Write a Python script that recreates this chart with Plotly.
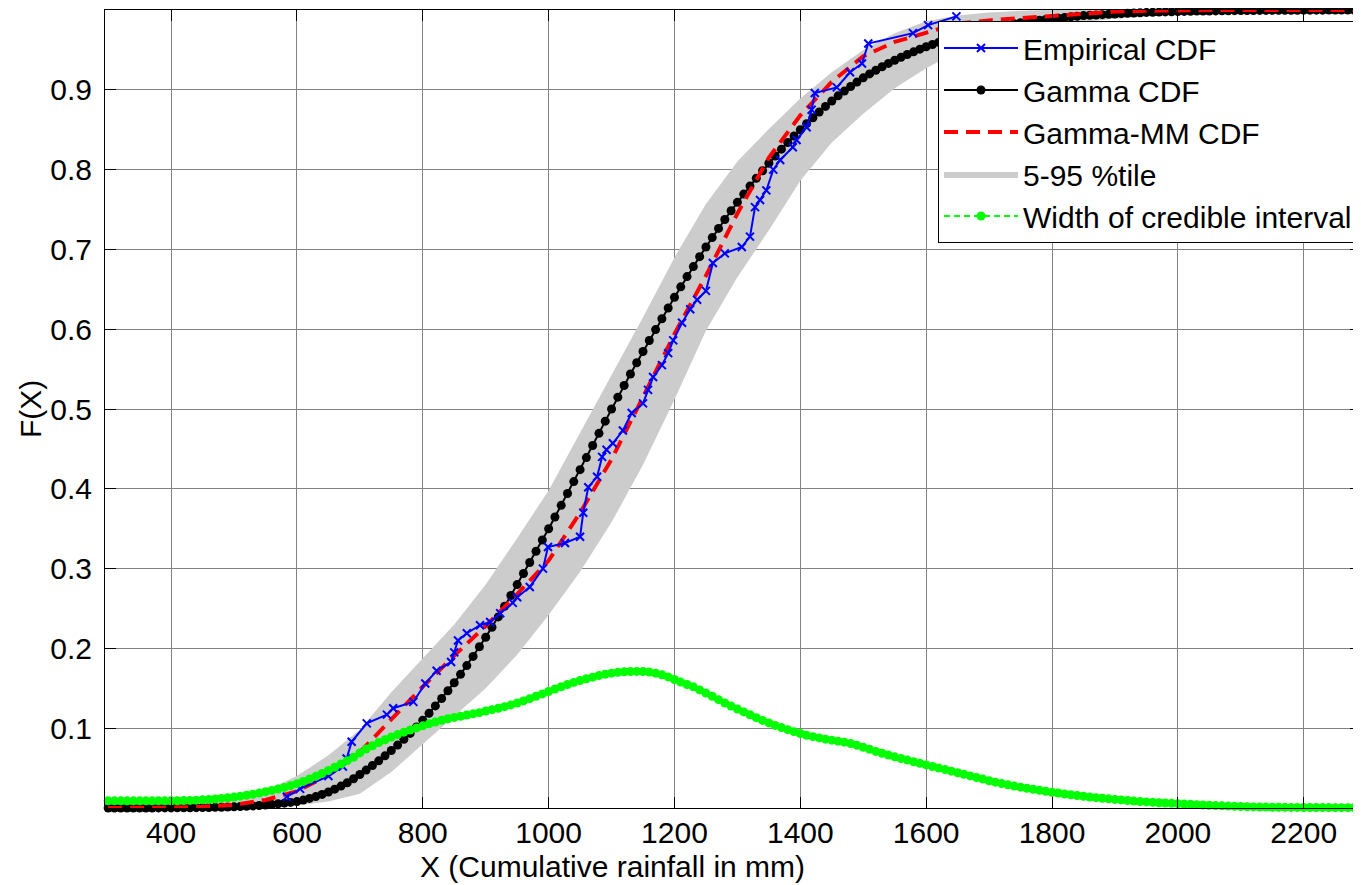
import plotly.graph_objects as go

# ---------------- data ----------------
x_grid = list(range(300, 2300, 10))  # evaluation grid of the fitted curves

gamma_cdf = [
    0, 0, 0, 0, 0, 0, 0, 0, 0.0001, 0.0001,
    0.0001, 0.0002, 0.0002, 0.0003, 0.0004, 0.0005, 0.0006, 0.0008, 0.0010, 0.0012,
    0.0015, 0.0018, 0.0022, 0.0026, 0.0031, 0.0037, 0.0044, 0.0052, 0.0061, 0.0070,
    0.0080, 0.0099, 0.0120, 0.0143, 0.0170, 0.0200, 0.0236, 0.0275, 0.0317, 0.0366,
    0.0420, 0.0475, 0.0532, 0.0591, 0.0654, 0.0720, 0.0788, 0.0860, 0.0935, 0.1015,
    0.1100, 0.1188, 0.1279, 0.1372, 0.1469, 0.1570, 0.1675, 0.1785, 0.1900, 0.2020,
    0.2140, 0.2265, 0.2395, 0.2528, 0.2663, 0.2800, 0.2938, 0.3077, 0.3217, 0.3358,
    0.3500, 0.3646, 0.3793, 0.3941, 0.4090, 0.4240, 0.4391, 0.4543, 0.4695, 0.4848,
    0.5000, 0.5148, 0.5294, 0.5438, 0.5580, 0.5720, 0.5858, 0.5995, 0.6131, 0.6266,
    0.6400, 0.6531, 0.6659, 0.6785, 0.6909, 0.7030, 0.7148, 0.7263, 0.7375, 0.7484,
    0.7590, 0.7693, 0.7793, 0.7891, 0.7986, 0.8080, 0.8170, 0.8256, 0.8339, 0.8421,
    0.8500, 0.8576, 0.8650, 0.8722, 0.8792, 0.8860, 0.8924, 0.8984, 0.9042, 0.9097,
    0.9150, 0.9199, 0.9245, 0.9289, 0.9331, 0.9370, 0.9407, 0.9442, 0.9476, 0.9509,
    0.9540, 0.9568, 0.9595, 0.9621, 0.9646, 0.9670, 0.9691, 0.9712, 0.9732, 0.9751,
    0.9770, 0.9785, 0.9799, 0.9813, 0.9827, 0.9840, 0.9851, 0.9861, 0.9871, 0.9881,
    0.9890, 0.9898, 0.9906, 0.9914, 0.9922, 0.9930, 0.9934, 0.9938, 0.9942, 0.9946,
    0.9950, 0.9954, 0.9958, 0.9962, 0.9966, 0.9970, 0.9972, 0.9974, 0.9976, 0.9978,
    0.9980, 0.9982, 0.9984, 0.9986, 0.9987, 0.9988, 0.9989, 0.9990, 0.9991, 0.9992,
    0.9993, 0.9994, 0.9994, 0.9995, 0.9995, 0.9996, 0.9996, 0.9997, 0.9997, 0.9997,
    0.9998, 0.9998, 0.9998, 0.9998, 0.9999, 0.9999, 0.9999, 0.9999, 0.9999, 0.9999,
]

ci_width = [
    0.0090, 0.0090, 0.0090, 0.0090, 0.0090, 0.0090, 0.0090, 0.0090, 0.0090, 0.0090,
    0.0090, 0.0091, 0.0093, 0.0095, 0.0098, 0.0102, 0.0107, 0.0113, 0.0120, 0.0128,
    0.0137, 0.0148, 0.0160, 0.0173, 0.0187, 0.0203, 0.0220, 0.0238, 0.0258, 0.0280,
    0.0305, 0.0333, 0.0364, 0.0397, 0.0432, 0.0470, 0.0510, 0.0551, 0.0593, 0.0635,
    0.0690, 0.0740, 0.0780, 0.0820, 0.0855, 0.0890, 0.0920, 0.0950, 0.0978, 0.1004,
    0.1030, 0.1055, 0.1078, 0.1099, 0.1118, 0.1135, 0.1150, 0.1165, 0.1180, 0.1195,
    0.1215, 0.1232, 0.1250, 0.1270, 0.1292, 0.1316, 0.1342, 0.1370, 0.1400, 0.1430,
    0.1460, 0.1490, 0.1520, 0.1548, 0.1574, 0.1598, 0.1620, 0.1640, 0.1660, 0.1677,
    0.1690, 0.1700, 0.1707, 0.1711, 0.1712, 0.1710, 0.1703, 0.1690, 0.1670, 0.1643,
    0.1610, 0.1578, 0.1548, 0.1518, 0.1480, 0.1440, 0.1400, 0.1358, 0.1316, 0.1277,
    0.1240, 0.1204, 0.1168, 0.1132, 0.1098, 0.1066, 0.1035, 0.1008, 0.0982, 0.0957,
    0.0933, 0.0912, 0.0894, 0.0878, 0.0863, 0.0850, 0.0838, 0.0825, 0.0808, 0.0785,
    0.0760, 0.0735, 0.0709, 0.0686, 0.0663, 0.0641, 0.0620, 0.0600, 0.0580, 0.0560,
    0.0540, 0.0520, 0.0500, 0.0481, 0.0462, 0.0442, 0.0422, 0.0402, 0.0382, 0.0362,
    0.0342, 0.0324, 0.0306, 0.0290, 0.0275, 0.0261, 0.0248, 0.0235, 0.0222, 0.0210,
    0.0198, 0.0187, 0.0176, 0.0166, 0.0156, 0.0147, 0.0138, 0.0130, 0.0122, 0.0115,
    0.0108, 0.0101, 0.0094, 0.0087, 0.0081, 0.0076, 0.0071, 0.0066, 0.0062, 0.0058,
    0.0054, 0.0050, 0.0046, 0.0042, 0.0038, 0.0034, 0.0030, 0.0027, 0.0024, 0.0021,
    0.0018, 0.0016, 0.0014, 0.0012, 0.0011, 0.0010, 0.0009, 0.0008, 0.0007, 0.0007,
    0.0006, 0.0006, 0.0005, 0.0005, 0.0005, 0.0004, 0.0004, 0.0004, 0.0004, 0.0003,
]

coarse_x = list(range(300, 2301, 50))
gamma_mm_cdf = [
    0.0, 0.0, 0.0005, 0.0015, 0.004, 0.010, 0.021, 0.041, 0.070, 0.111,
    0.152, 0.191, 0.228, 0.268, 0.310, 0.370, 0.437, 0.515, 0.594, 0.667,
    0.745, 0.815, 0.868, 0.910, 0.942, 0.960, 0.971, 0.983, 0.987, 0.990,
    0.993, 0.996, 0.998, 0.999, 1.0, 1.0, 1.0, 1.0, 1.0, 1.0, 1.0,
]
band_upper = [
    0.009, 0.009, 0.009, 0.010, 0.013, 0.022, 0.040, 0.066, 0.098, 0.145,
    0.188, 0.230, 0.280, 0.338, 0.398, 0.470, 0.543, 0.615, 0.690, 0.757,
    0.810, 0.851, 0.889, 0.922, 0.950, 0.971, 0.986, 0.993, 0.997, 0.999,
    1.0, 1.0, 1.0, 1.0, 1.0, 1.0, 1.0, 1.0, 1.0, 1.0, 1.0,
]
band_lower = [
    0.0, 0.0, 0.0, 0.0, 0.0005, 0.001, 0.003, 0.008, 0.018, 0.045,
    0.080, 0.115, 0.150, 0.192, 0.242, 0.296, 0.358, 0.430, 0.512, 0.598,
    0.665, 0.724, 0.786, 0.834, 0.870, 0.902, 0.927, 0.948, 0.962, 0.972,
    0.980, 0.985, 0.989, 0.992, 0.9946, 0.9966, 0.998, 0.999, 0.9994, 0.9996, 0.9997,
]

emp_x = [584, 605, 650, 673, 679, 687, 711, 743, 753, 785,
         804, 822, 845, 850, 856, 870, 891, 907, 923, 943,
         950, 970, 991, 999, 1026, 1050, 1055, 1063, 1077, 1085,
         1092, 1102, 1118, 1132, 1150, 1158, 1166, 1180, 1190, 1198,
         1212, 1225, 1236, 1250, 1261, 1280, 1307, 1320, 1328, 1336,
         1346, 1357, 1368, 1388, 1394, 1410, 1418, 1423, 1458, 1479,
         1498, 1508, 1579, 1603, 1648]
emp_y = [0.014, 0.024, 0.040, 0.052, 0.062, 0.083, 0.106, 0.117, 0.125, 0.133,
         0.156, 0.172, 0.183, 0.195, 0.210, 0.219, 0.229, 0.233, 0.244, 0.257,
         0.264, 0.277, 0.300, 0.327, 0.332, 0.340, 0.370, 0.402, 0.415, 0.440,
         0.449, 0.457, 0.473, 0.495, 0.507, 0.524, 0.540, 0.555, 0.570, 0.586,
         0.608, 0.625, 0.637, 0.648, 0.683, 0.695, 0.703, 0.716, 0.753, 0.762,
         0.774, 0.800, 0.812, 0.828, 0.837, 0.853, 0.875, 0.896, 0.903, 0.922,
         0.933, 0.958, 0.971, 0.981, 0.992]

x_ticks = [400, 600, 800, 1000, 1200, 1400, 1600, 1800, 2000, 2200]
y_ticks = [0.1, 0.2, 0.3, 0.4, 0.5, 0.6, 0.7, 0.8, 0.9]
y_tick_labels = ["0.1", "0.2", "0.3", "0.4", "0.5", "0.6", "0.7", "0.8", "0.9"]

# ---------------- figure ----------------
FONT = "Liberation Sans, Arial, sans-serif"
FS = 30
# the page body adds an 8px offset; the plot area lands at window x 105..1361, y 10..808
PLOT_W = 1256
PLOT_H = 798

fig = go.Figure()

fig.add_trace(go.Scatter(
    x=coarse_x, y=band_lower, mode="lines", line=dict(width=0, color="rgba(0,0,0,0)"),
    showlegend=False, hoverinfo="skip"))
fig.add_trace(go.Scatter(
    x=coarse_x, y=band_upper, mode="lines", line=dict(width=0, color="rgb(204,204,204)"),
    fill="tonexty", fillcolor="rgb(204,204,204)", name="5-95 %tile", legendrank=4))

fig.add_trace(go.Scatter(
    x=x_grid, y=gamma_cdf, mode="lines+markers", name="Gamma CDF", legendrank=2,
    line=dict(color="black", width=2),
    marker=dict(symbol="circle", size=9, color="black"),
    cliponaxis=False))

fig.add_trace(go.Scatter(
    x=coarse_x, y=gamma_mm_cdf, mode="lines", name="Gamma-MM CDF", legendrank=3,
    line=dict(color="red", width=4, dash="14px,8px")))

fig.add_trace(go.Scatter(
    x=emp_x, y=emp_y, mode="lines+markers", name="Empirical CDF", legendrank=1,
    line=dict(color="blue", width=2),
    marker=dict(symbol="x-thin-open", size=8, color="blue", line=dict(color="blue", width=2))))

fig.add_trace(go.Scatter(
    x=x_grid, y=ci_width, mode="lines+markers", name="Width of credible interval", legendrank=5,
    line=dict(color="rgb(0,255,0)", width=2, dash="6px,4px"),
    marker=dict(symbol="circle", size=9, color="rgb(0,255,0)"),
    cliponaxis=False))

axis_common = dict(
    showline=True, linecolor="black", linewidth=1, mirror="ticks",
    ticks="inside", ticklen=11, tickwidth=1, tickcolor="black",
    showgrid=True, gridcolor="rgb(130,130,130)", gridwidth=1,
    zeroline=False, automargin=False,
    tickfont=dict(family=FONT, size=FS, color="black"),
)

fig.update_layout(
    width=1353, height=877,
    margin=dict(l=97, r=0, t=2, b=77),
    plot_bgcolor="white", paper_bgcolor="white",
    font=dict(family=FONT, size=FS, color="black"),
    xaxis=dict(range=[295, 2291], tickvals=x_ticks, ticklabelstandoff=-2, **axis_common),
    yaxis=dict(range=[0, 1], tickvals=y_ticks, ticktext=y_tick_labels,
               ticklabelstandoff=6, **axis_common),
    legend=dict(
        x=(938 - 105) / PLOT_W, y=(808 - 21) / PLOT_H, xanchor="left", yanchor="top",
        bgcolor="white", bordercolor="black", borderwidth=1,
        font=dict(family=FONT, size=FS, color="black"),
        itemwidth=74, tracegroupgap=0, traceorder="normal",
    ),
    annotations=[
        dict(text="X (Cumulative rainfall in mm)", xref="paper", yref="paper",
             x=(612 - 105) / PLOT_W, y=(808 - 866) / PLOT_H, xanchor="center", yanchor="middle",
             showarrow=False, font=dict(family=FONT, size=FS, color="black")),
        dict(text="F(X)", xref="paper", yref="paper",
             x=(30 - 105) / PLOT_W, y=0.5, xanchor="center", yanchor="middle",
             textangle=-90, showarrow=False, font=dict(family=FONT, size=FS, color="black")),
    ],
)

fig.write_html("out.html")
